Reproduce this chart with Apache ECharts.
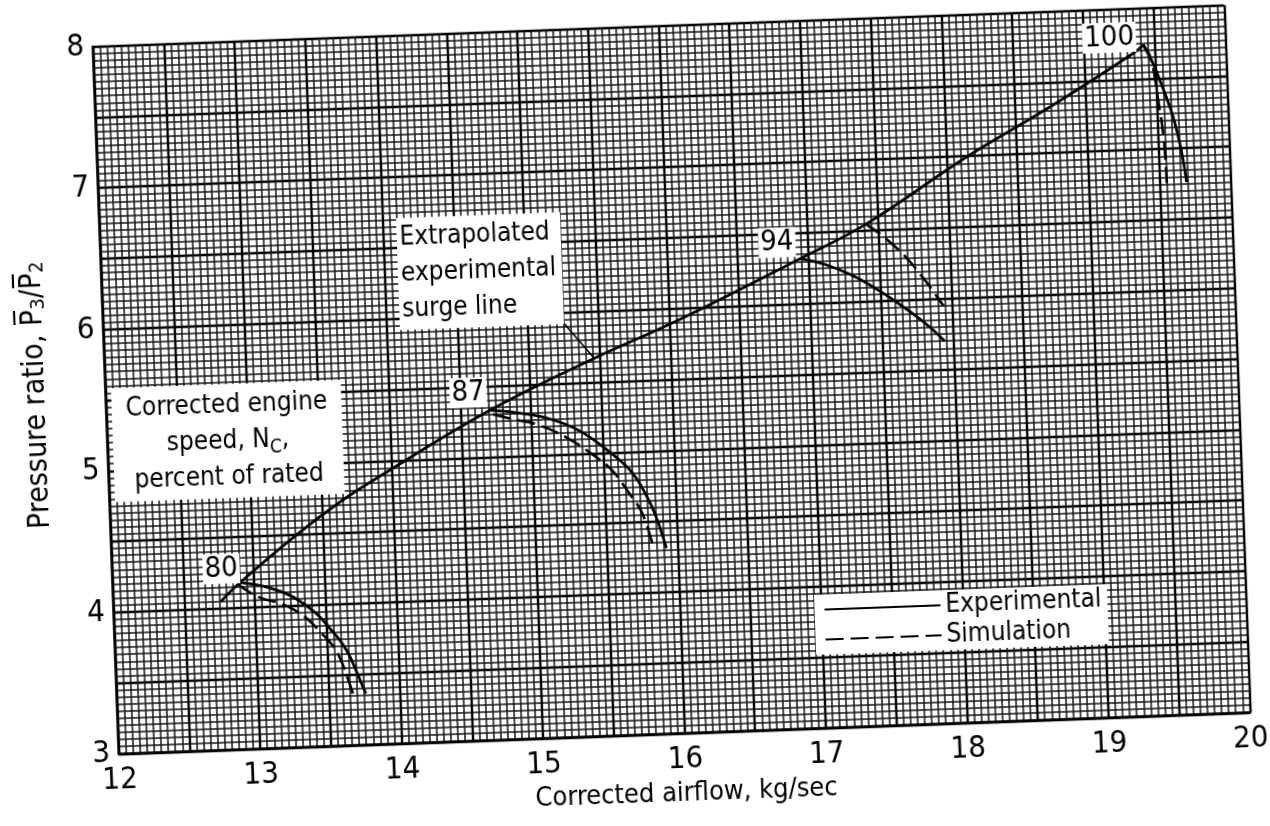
<!DOCTYPE html>
<html>
<head>
<meta charset="utf-8">
<script src="https://cdn.jsdelivr.net/npm/echarts@6/dist/echarts.min.js"></script>
<style>
  html, body { margin: 0; padding: 0; background: #fff; overflow: hidden; }
  /* the plotted sheet sits at a slight angle on the page */
  #chart { width: 1270px; height: 826px; transform: rotate(-2.1deg); transform-origin: 671.5px 379.5px; }
</style>
</head>
<body>
<div id="chart"></div>
<script>
const FONT = "'DejaVu Sans Condensed', 'Liberation Sans Narrow', 'Arial Narrow', sans-serif";

// axis ranges
const xRange = [12, 20];
const yRange = [3, 8];

// extrapolated experimental surge line [airflow kg/s, pressure ratio]
const surgeLine = [
  [12.76, 4.05], [12.89, 4.17], [13.31, 4.50], [13.64, 4.73], [13.91, 4.89],
  [14.71, 5.33], [15.46, 5.67], [16.07, 5.92], [16.94, 6.32], [17.42, 6.55],
  [18.15, 7.00], [18.75, 7.33], [19.34, 7.68], [19.42, 7.74]
];

// speed lines, experimental (solid) and simulation (dashed)
const exp80 = [[12.89, 4.18], [13.05, 4.15], [13.17, 4.11], [13.29, 4.05], [13.43, 3.94], [13.53, 3.82], [13.60, 3.73], [13.66, 3.62], [13.71, 3.49], [13.76, 3.36]];
const sim80 = [[12.88, 4.17], [12.96, 4.11], [13.05, 4.06], [13.15, 4.03], [13.26, 3.98], [13.37, 3.90], [13.46, 3.80], [13.53, 3.72], [13.59, 3.61], [13.63, 3.49], [13.67, 3.36]];
const exp87 = [[14.71, 5.33], [14.87, 5.31], [15.11, 5.26], [15.34, 5.16], [15.56, 4.99], [15.70, 4.85], [15.81, 4.65], [15.87, 4.49], [15.92, 4.31]];
const sim87 = [[14.73, 5.30], [14.87, 5.26], [15.03, 5.22], [15.24, 5.12], [15.45, 4.97], [15.56, 4.87], [15.67, 4.71], [15.76, 4.56], [15.83, 4.31]];
const exp94 = [[16.94, 6.32], [17.12, 6.27], [17.30, 6.19], [17.48, 6.08], [17.66, 5.95], [17.82, 5.82], [17.94, 5.70]];
const sim94 = [[17.41, 6.55], [17.55, 6.44], [17.69, 6.30], [17.82, 6.13], [17.94, 5.95]];
const exp100 = [[19.42, 7.74], [19.49, 7.59], [19.55, 7.42], [19.61, 7.23], [19.66, 6.99], [19.69, 6.76]];
const sim100 = [[19.42, 7.74], [19.47, 7.64], [19.51, 7.35], [19.54, 7.07], [19.55, 6.76]];

// speed tags: [text, airflow, pressure ratio]
const speedTags = [['80', 12.77, 4.28], ['87', 14.56, 5.46], ['94', 16.78, 6.44], ['100', 19.18, 7.80]];

// callout texts and where they sit
const speedNote = { at: [12.85, 5.18], text: 'Corrected engine\nspeed, N{sub|C},\npercent of rated' };
const surgeNote = { at: [14.095, 6.315], text: 'Extrapolated\nexperimental\nsurge line' };
const surgeLeader = [[15.03, 6.04], [15.17, 6.03], [15.46, 5.67]];

const SOLID = { color: '#000', width: 2.8, type: 'solid' };
const DASHED = { color: '#000', width: 2.6, type: [18, 7] };

function curve(name, data, style) {
  return {
    name: name, type: 'line', data: data, smooth: 0.4, symbol: 'none',
    lineStyle: style, itemStyle: { color: '#000' }, z: 3, silent: true
  };
}

const plainText = { color: '#000', textBorderWidth: 0, textBorderColor: 'transparent', textShadowBlur: 0 };

const chart = echarts.init(document.getElementById('chart'), null, { renderer: 'canvas' });

const tagItems = speedTags.map(t => ({
  value: [t[1], t[2]],
  label: { formatter: t[0] }
}));

chart.setOption({
  animation: false,
  backgroundColor: '#fff',
  grid: { left: 105.65, top: 25.7, width: 1131.7, height: 707.6, containLabel: false },
  legend: {
    left: 806, top: 600, orient: 'vertical',
    data: ['Experimental', 'Simulation'],
    backgroundColor: '#fff',
    padding: [2, 6, 2, 9], itemGap: 4,
    itemWidth: 116, itemHeight: 16,
    itemStyle: { opacity: 0 },
    textStyle: Object.assign({ fontFamily: FONT, fontSize: 26 }, plainText),
    selectedMode: false
  },
  xAxis: {
    type: 'value', min: xRange[0], max: xRange[1], interval: 0.5,
    name: 'Corrected airflow, kg/sec', nameLocation: 'middle', nameGap: 44,
    nameTextStyle: { fontFamily: FONT, fontSize: 27, color: '#000' },
    axisLine: { show: true, lineStyle: { color: '#000', width: 2.6 } },
    axisTick: { show: false },
    axisLabel: {
      margin: 11, fontFamily: FONT, fontSize: 31, color: '#000',
      formatter: v => (Number.isInteger(v) ? String(v) : '')
    },
    splitLine: { show: true, lineStyle: { color: '#000', width: 2.4 } },
    minorTick: { show: false, splitNumber: 10 },
    minorSplitLine: { show: true, lineStyle: { color: '#151515', width: 1.5 } }
  },
  yAxis: {
    type: 'value', min: yRange[0], max: yRange[1], interval: 0.5,
    name: 'Pressure ratio, P\u0305{s|3}/P\u0305{s|2}', nameLocation: 'middle', nameGap: 54,
    nameRotate: 90,
    nameTextStyle: {
      fontFamily: FONT, fontSize: 30, color: '#000', padding: [0, 0, 0, 15],
      rich: { s: { fontFamily: FONT, fontSize: 20, lineHeight: 20, verticalAlign: 'bottom', color: '#000' } }
    },
    axisLine: { show: true, lineStyle: { color: '#000', width: 2.6 } },
    axisTick: { show: false },
    axisLabel: {
      margin: 9, fontFamily: FONT, fontSize: 31, color: '#000',
      formatter: v => (Number.isInteger(v) ? String(v) : '')
    },
    splitLine: { show: true, lineStyle: { color: '#000', width: 2.4 } },
    minorTick: { show: false, splitNumber: 10 },
    minorSplitLine: { show: true, lineStyle: { color: '#151515', width: 1.5 } }
  },
  series: [
    curve('Experimental', surgeLine, SOLID),
    curve('Experimental', exp80, SOLID),
    curve('Experimental', exp87, SOLID),
    curve('Experimental', exp94, SOLID),
    curve('Experimental', exp100, SOLID),
    curve('Simulation', sim80, DASHED),
    curve('Simulation', sim87, DASHED),
    curve('Simulation', sim94, DASHED),
    curve('Simulation', sim100, DASHED),
    {
      name: 'leader', type: 'line', data: surgeLeader, symbol: 'none', silent: true,
      lineStyle: { color: '#000', width: 1.6 }, z: 3
    },
    {
      name: 'tags', type: 'scatter', data: tagItems, symbolSize: 0, silent: true, z: 5,
      itemStyle: { color: '#000', opacity: 1 },
      label: Object.assign({
        show: true, position: 'inside', align: 'center', verticalAlign: 'middle',
        fontFamily: FONT, fontSize: 29,
        backgroundColor: '#fff', padding: [1, 2, 0, 2]
      }, plainText)
    },
    {
      name: 'notes', type: 'scatter', symbolSize: 0, silent: true, z: 5,
      itemStyle: { color: '#000', opacity: 1 },
      data: [
        {
          value: speedNote.at,
          label: {
            formatter: speedNote.text, align: 'center', lineHeight: 36,
            padding: [3, 14, 3, 14],
            rich: { sub: Object.assign({ fontFamily: FONT, fontSize: 19, lineHeight: 19, verticalAlign: 'bottom' }, plainText) }
          }
        },
        {
          value: surgeNote.at,
          label: { formatter: surgeNote.text, align: 'left', lineHeight: 36, padding: [2, 6, 2, 3] }
        }
      ],
      label: Object.assign({
        show: true, position: 'inside', verticalAlign: 'middle',
        fontFamily: FONT, fontSize: 26, backgroundColor: '#fff'
      }, plainText)
    }
  ]
});
</script>
</body>
</html>
